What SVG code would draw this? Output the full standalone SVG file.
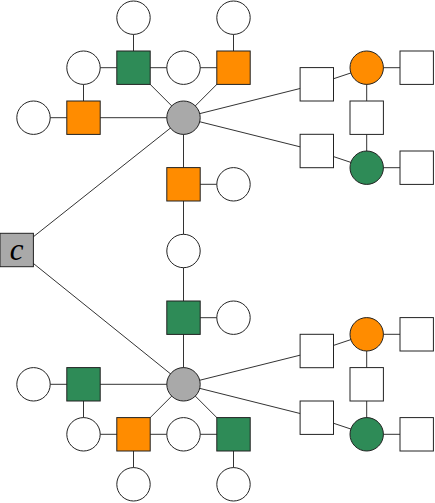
<svg xmlns="http://www.w3.org/2000/svg" width="435" height="503" viewBox="0 0 435 503">
<style>
.e{stroke:#333;stroke-width:1;fill:none}
.n{stroke:#222;stroke-width:1}
.w{fill:#fff}.o{fill:#ff8c00}.g{fill:#2e8b57}.k{fill:#a9a9a9}
.lbl{font-family:"Liberation Serif",serif;font-style:italic;font-size:31px;fill:#000;stroke:none}
</style>
<defs>
<rect id="sq" x="-16.7" y="-16.7" width="33.4" height="33.4"/>
<circle id="ci" r="16.7"/>
</defs>
<g id="connectors" class="e">
<line x1="183.5" y1="117.7" x2="16.7" y2="250"/>
<line x1="183.5" y1="117.7" x2="133.5" y2="67.7"/>
<line x1="183.5" y1="117.7" x2="233.5" y2="67.7"/>
<line x1="183.5" y1="117.7" x2="83.5" y2="117.7"/>
<line x1="183.5" y1="117.7" x2="316.8" y2="84.3"/>
<line x1="183.5" y1="117.7" x2="316.8" y2="151"/>
<line x1="183.5" y1="117.7" x2="183.5" y2="384.3"/>
<line x1="133.5" y1="17.7" x2="133.5" y2="67.7"/>
<line x1="83.5" y1="67.7" x2="233.5" y2="67.7"/>
<line x1="233.5" y1="17.7" x2="233.5" y2="67.7"/>
<line x1="83.5" y1="67.7" x2="83.5" y2="117.7"/>
<line x1="33.5" y1="117.7" x2="83.5" y2="117.7"/>
<line x1="316.8" y1="84.3" x2="366.7" y2="67.7"/>
<line x1="366.7" y1="67.7" x2="416.7" y2="67.7"/>
<line x1="366.7" y1="67.7" x2="366.7" y2="167.7"/>
<line x1="316.8" y1="151" x2="366.7" y2="167.7"/>
<line x1="366.7" y1="167.7" x2="416.7" y2="167.7"/>
<line x1="183.5" y1="184.3" x2="233.5" y2="184.3"/>
<line x1="183.5" y1="317.7" x2="233.5" y2="317.7"/>
<line x1="183.5" y1="384.3" x2="16.7" y2="250"/>
<line x1="183.5" y1="384.3" x2="83.5" y2="384.3"/>
<line x1="183.5" y1="384.3" x2="133.5" y2="434.3"/>
<line x1="183.5" y1="384.3" x2="233.5" y2="434.3"/>
<line x1="183.5" y1="384.3" x2="316.8" y2="351"/>
<line x1="183.5" y1="384.3" x2="316.8" y2="417.7"/>
<line x1="33.5" y1="384.3" x2="83.5" y2="384.3"/>
<line x1="83.5" y1="384.3" x2="83.5" y2="434.3"/>
<line x1="83.5" y1="434.3" x2="233.5" y2="434.3"/>
<line x1="133.5" y1="434.3" x2="133.5" y2="484.3"/>
<line x1="233.5" y1="434.3" x2="233.5" y2="484.3"/>
<line x1="316.8" y1="351" x2="366.7" y2="334.3"/>
<line x1="366.7" y1="334.3" x2="416.7" y2="334.3"/>
<line x1="366.7" y1="334.3" x2="366.7" y2="434.3"/>
<line x1="316.8" y1="417.7" x2="366.7" y2="434.3"/>
<line x1="366.7" y1="434.3" x2="416.7" y2="434.3"/>
</g>
<g id="c" class="n k"><use href="#sq" x="16.7" y="250"/><text class="lbl" x="16.7" y="259.5" text-anchor="middle">c</text></g>
<g id="hub1" class="n k"><use href="#ci" x="183.5" y="117.7"/></g>
<g id="hub2" class="n k"><use href="#ci" x="183.5" y="384.3"/></g>
<g id="t1" class="n w"><use href="#ci" x="133.5" y="17.7"/></g>
<g id="t2" class="n g"><use href="#sq" x="133.5" y="67.7"/></g>
<g id="t3" class="n w"><use href="#ci" x="83.5" y="67.7"/></g>
<g id="t4" class="n w"><use href="#ci" x="183.5" y="67.7"/></g>
<g id="t5" class="n o"><use href="#sq" x="233.5" y="67.7"/></g>
<g id="t6" class="n w"><use href="#ci" x="233.5" y="17.7"/></g>
<g id="t7" class="n o"><use href="#sq" x="83.5" y="117.7"/></g>
<g id="t8" class="n w"><use href="#ci" x="33.5" y="117.7"/></g>
<g id="m1" class="n o"><use href="#sq" x="183.5" y="184.3"/></g>
<g id="m2" class="n w"><use href="#ci" x="233.5" y="184.3"/></g>
<g id="m3" class="n w"><use href="#ci" x="183.5" y="251"/></g>
<g id="m4" class="n g"><use href="#sq" x="183.5" y="317.7"/></g>
<g id="m5" class="n w"><use href="#ci" x="233.5" y="317.7"/></g>
<g id="r1" class="n w"><use href="#sq" x="316.8" y="84.3"/></g>
<g id="r2" class="n o"><use href="#ci" x="366.7" y="67.7"/></g>
<g id="r3" class="n w"><use href="#sq" x="416.7" y="67.7"/></g>
<g id="r4" class="n w"><use href="#sq" x="366.7" y="117.7"/></g>
<g id="r5" class="n w"><use href="#sq" x="316.8" y="151"/></g>
<g id="r6" class="n g"><use href="#ci" x="366.7" y="167.7"/></g>
<g id="r7" class="n w"><use href="#sq" x="416.7" y="167.7"/></g>
<g id="b1" class="n g"><use href="#sq" x="83.5" y="384.3"/></g>
<g id="b2" class="n w"><use href="#ci" x="33.5" y="384.3"/></g>
<g id="b3" class="n w"><use href="#ci" x="83.5" y="434.3"/></g>
<g id="b4" class="n o"><use href="#sq" x="133.5" y="434.3"/></g>
<g id="b5" class="n w"><use href="#ci" x="183.5" y="434.3"/></g>
<g id="b6" class="n g"><use href="#sq" x="233.5" y="434.3"/></g>
<g id="b7" class="n w"><use href="#ci" x="133.5" y="484.3"/></g>
<g id="b8" class="n w"><use href="#ci" x="233.5" y="484.3"/></g>
<g id="s1" class="n w"><use href="#sq" x="316.8" y="351"/></g>
<g id="s2" class="n o"><use href="#ci" x="366.7" y="334.3"/></g>
<g id="s3" class="n w"><use href="#sq" x="416.7" y="334.3"/></g>
<g id="s4" class="n w"><use href="#sq" x="366.7" y="384.3"/></g>
<g id="s5" class="n w"><use href="#sq" x="316.8" y="417.7"/></g>
<g id="s6" class="n g"><use href="#ci" x="366.7" y="434.3"/></g>
<g id="s7" class="n w"><use href="#sq" x="416.7" y="434.3"/></g>
</svg>
